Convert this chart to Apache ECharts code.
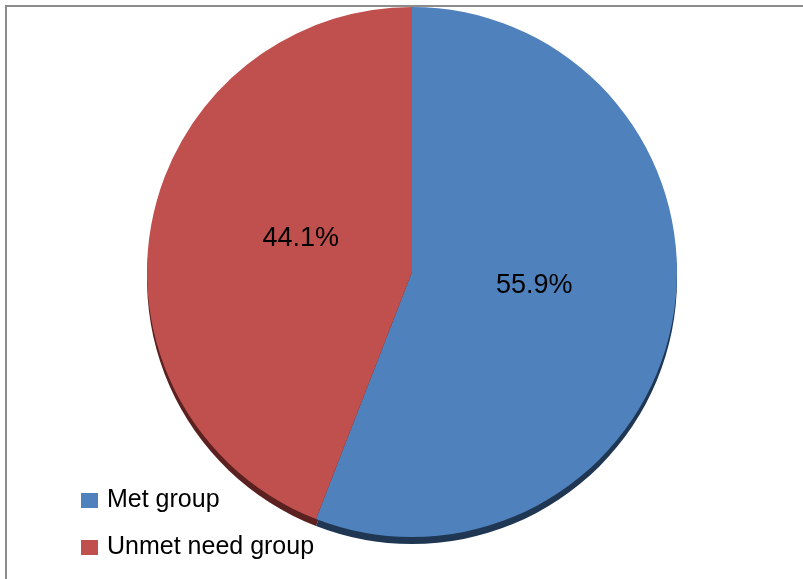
<!DOCTYPE html>
<html>
<head>
<meta charset="utf-8">
<script src="https://cdn.jsdelivr.net/npm/echarts@6/dist/echarts.min.js"></script>
<style>
  html, body { margin: 0; padding: 0; background: #fff; }
  #chart { width: 803px; height: 579px; position: absolute; left: 0; top: 0; }
  .frame { position: absolute; left: 5px; top: 5px; width: 810px; height: 590px;
           border-top: 2px solid #8c8c8c; border-left: 2px solid #8c8c8c; }
</style>
</head>
<body>
<div class="frame"></div>
<div id="chart"></div>
<script>
// values
var groups = ['Met group', 'Unmet need group']
var shares = [55.9, 44.1]
var faceColors = ['#4f81bd', '#c0504d']
var sideColors = ['#1f3753', '#5a2120']
// nudge the inner labels toward where the original puts them
var labelPads = [[0, 22, 0, 0], [0, 0, 0, 44]]
var labelLift = [22, 16]

var myChart = echarts.init(document.getElementById('chart'))

var faceData = []
var sideData = []
for (var i = 0; i < groups.length; i++) {
  faceData.push({
    name: groups[i],
    value: shares[i],
    itemStyle: { color: faceColors[i] },
    label: {
      padding: labelPads[i],
      rich: {
        v: { fontFamily: 'Liberation Sans', fontSize: 27, color: '#000', lineHeight: 30 },
        g: { fontSize: 1, lineHeight: labelLift[i] }
      }
    }
  })
  sideData.push({ name: groups[i] + ' side', value: shares[i], itemStyle: { color: sideColors[i] } })
}

var option = {
  animation: false,
  legend: {
    data: groups,
    orient: 'vertical',
    left: 76,
    top: 483,
    itemWidth: 17,
    itemHeight: 15,
    itemGap: 22,
    icon: 'rect',
    textStyle: { fontFamily: 'Liberation Sans', fontSize: 25, color: '#000', padding: [0, 0, 0, 4] }
  },
  series: [
    {
      // darker edge under the pie
      type: 'pie',
      silent: true,
      center: [412, 279],
      radius: 265,
      startAngle: 90,
      clockwise: true,
      label: { show: false },
      labelLine: { show: false },
      data: sideData
    },
    {
      type: 'pie',
      center: [412, 272],
      radius: 265,
      startAngle: 90,
      clockwise: true,
      label: {
        show: true,
        position: 'inner',
        formatter: function (p) { return '{v|' + p.value.toFixed(1) + '%}\n{g| }' },
        fontFamily: 'Liberation Sans',
        fontSize: 27,
        color: '#000'
      },
      labelLine: { show: false },
      data: faceData
    }
  ]
}
myChart.setOption(option)
</script>
</body>
</html>
